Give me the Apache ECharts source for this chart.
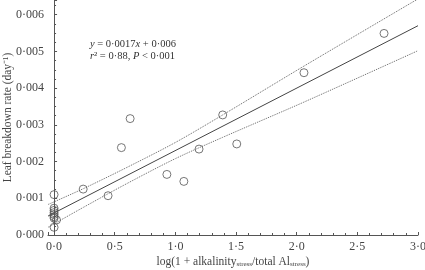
<!DOCTYPE html>
<html>
<head>
<meta charset="utf-8">
<script src="https://cdn.jsdelivr.net/npm/echarts@6/dist/echarts.min.js"></script>
<style>
  html, body { margin: 0; padding: 0; background: #fff; }
  #chart { width: 425px; height: 270px; }
</style>
</head>
<body>
<div id="chart"></div>
<script>
// observed points, x = log(1 + alkalinity/total Al), y = leaf breakdown rate
const pointX = [0, 0, 0, 0, 0, 0, 0, 0, 0.02, 0.24, 0.445, 0.555, 0.627, 0.93, 1.07, 1.195, 1.39, 1.506, 2.06, 2.72];
const pointY = [0.0011, 0.00073, 0.00067, 0.00061, 0.00056, 0.0005, 0.00046, 0.00021, 0.00041, 0.00125, 0.00107, 0.00238, 0.00317, 0.00165, 0.00146, 0.00234, 0.00327, 0.00248, 0.00442, 0.00549];

// fitted line and confidence band
const fitX = [-0.05, 3.0];
const fitY = [0.000515, 0.0057];
const bandX = [-0.05, 0.24, 0.6, 1.0, 1.39, 2.06, 3.0];
const upperY = [0.00083, 0.00126, 0.00184, 0.00252, 0.00327, 0.0046, 0.00643];
const lowerY = [0.00021, 0.00075, 0.0014, 0.00208, 0.00266, 0.00362, 0.00502];

const zip = (xs, ys) => xs.map((x, i) => [x, ys[i]]);
const dot = (v, d) => v.toFixed(d).replace(".", "\u00b7");

const serif = "Liberation Serif";
const ink = "#444";

const chart = echarts.init(document.getElementById("chart"));

chart.setOption({
  animation: false,
  grid: { left: 48, right: 7, top: 0, bottom: 35, outerBoundsMode: "none", containLabel: false },
  xAxis: {
    type: "value",
    min: -0.05,
    max: 3.0,
    splitNumber: 6,
    name: "log(1 + alkalinity{sub|stress}/total Al{sub|stress})",
    nameLocation: "middle",
    nameGap: 21,
    nameMoveOverlap: false,
    nameTextStyle: {
      fontFamily: serif,
      fontSize: 11.5,
      color: ink,
      verticalAlign: "top",
      rich: { sub: { fontFamily: serif, fontSize: 7, color: ink, padding: [5, 0, 0, 0] } },
    },
    axisLine: { lineStyle: { color: "#555", width: 1 } },
    axisTick: { inside: true, length: 3, lineStyle: { color: "#555" } },
    minorTick: { show: true, splitNumber: 5, length: 2, lineStyle: { color: "#555" } },
    splitLine: { show: false },
    axisLabel: {
      showMinLabel: false,
      margin: 6,
      fontFamily: serif,
      fontSize: 12,
      color: ink,
      formatter: (v) => dot(v, 1),
    },
  },
  yAxis: {
    type: "value",
    min: 0,
    max: 0.0064,
    interval: 0.001,
    name: "Leaf breakdown rate (day\u207b\u00b9)",
    nameLocation: "middle",
    nameGap: 34,
    nameMoveOverlap: false,
    nameTextStyle: { fontFamily: serif, fontSize: 11.5, color: ink },
    axisLine: { lineStyle: { color: "#555", width: 1 } },
    axisTick: { inside: true, length: 3, lineStyle: { color: "#555" } },
    minorTick: { show: true, splitNumber: 4, length: 2, lineStyle: { color: "#555" } },
    splitLine: { show: false },
    axisLabel: {
      showMaxLabel: false,
      margin: 4,
      fontFamily: serif,
      fontSize: 12,
      color: ink,
      formatter: (v) => dot(v, 3),
    },
  },
  graphic: [
    {
      type: "text",
      left: 90,
      top: 38,
      style: {
        text: "{i|y} = 0\u00b70017{i|x} + 0\u00b7006\n{i|r}\u00b2 = 0\u00b788, {i|P} < 0\u00b7001",
        font: "10.5px 'Liberation Serif'",
        fill: "#333",
        lineHeight: 12,
        rich: { i: { fontStyle: "italic", fontFamily: serif, fontSize: 10.5, fill: "#333" } },
      },
    },
  ],
  series: [
    {
      type: "line",
      data: zip(bandX, upperY),
      smooth: 0.3,
      symbol: "none",
      lineStyle: { color: "#666", width: 1, type: "dotted" },
    },
    {
      type: "line",
      data: zip(bandX, lowerY),
      smooth: 0.3,
      symbol: "none",
      lineStyle: { color: "#666", width: 1, type: "dotted" },
    },
    {
      type: "line",
      data: zip(fitX, fitY),
      symbol: "none",
      lineStyle: { color: "#444", width: 1 },
    },
    {
      type: "scatter",
      data: zip(pointX, pointY),
      symbol: "circle",
      symbolSize: 8,
      itemStyle: { color: "rgba(255,255,255,0)", borderColor: "#555", borderWidth: 1 },
      z: 5,
    },
  ],
});
</script>
</body>
</html>
